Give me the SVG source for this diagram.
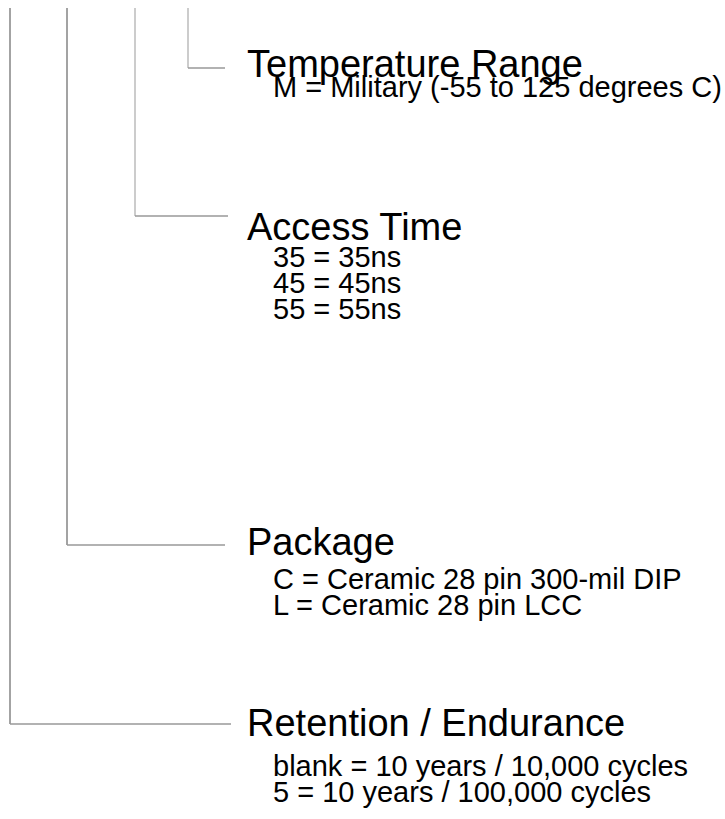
<svg xmlns="http://www.w3.org/2000/svg" width="725" height="819" viewBox="0 0 725 819">
<style>
.v{fill:none;stroke:#666;stroke-width:1.2}
.hz{fill:none;stroke:#999;stroke-width:1.4}
.lt{stroke:#aaa}
.t{font-family:"Liberation Sans",Arial,sans-serif;fill:#000}
.h{font-size:38px}
.s{font-size:29px}
</style>
<rect width="725" height="819" fill="#fff"/>
<g id="connectors">
<path class="v" d="M10 8V724"/>
<path class="hz" d="M10 724H231"/>
<path class="v" d="M67 8V545"/>
<path class="hz" d="M67 545H225"/>
<path class="v lt" d="M135 8V216"/>
<path class="hz" d="M135 216H228"/>
<path class="v lt" d="M188 8V68"/>
<path class="hz" d="M188 68H225"/>
</g>
<g id="temperature">
<text class="t h" x="247" y="77">Temperature Range</text>
<text class="t s" x="273" y="97">M = Military (-55 to 125 degrees C)</text>
</g>
<g id="access">
<text class="t h" x="247" y="240">Access Time</text>
<text class="t s" x="273" y="267">35 = 35ns</text>
<text class="t s" x="273" y="293">45 = 45ns</text>
<text class="t s" x="273" y="319">55 = 55ns</text>
</g>
<g id="package">
<text class="t h" x="247" y="555">Package</text>
<text class="t s" x="273" y="589">C = Ceramic 28 pin 300-mil DIP</text>
<text class="t s" x="273" y="615">L = Ceramic 28 pin LCC</text>
</g>
<g id="retention">
<text class="t h" x="247" y="736">Retention / Endurance</text>
<text class="t s" x="273" y="776">blank = 10 years / 10,000 cycles</text>
<text class="t s" x="273" y="802">5 = 10 years / 100,000 cycles</text>
</g>
</svg>
